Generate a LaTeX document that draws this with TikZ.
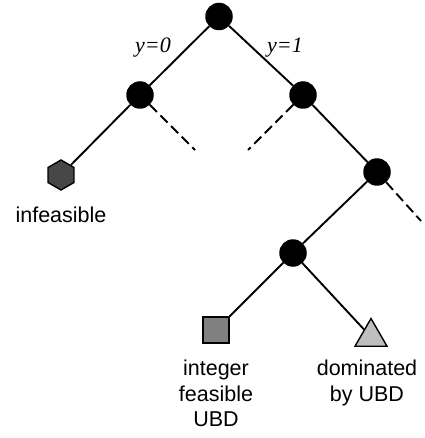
\documentclass[tikz,border=0pt]{standalone}
\usepackage{fontspec}
\setmainfont{Liberation Sans}
\newfontfamily\lserif{Liberation Serif}
\usetikzlibrary{shapes.geometric}
\begin{document}
\begin{tikzpicture}[x=1pt,y=-1pt,
  dot/.style={circle,fill=black,inner sep=0pt,minimum size=27.5pt},
  edge/.style={line width=1.9pt},
  dashedge/.style={line width=1.9pt,dash pattern=on 10pt off 5pt},
  lbl/.style={font=\fontsize{21.5}{25.5}\selectfont,align=center,inner sep=0pt},
  ylbl/.style={font=\lserif\itshape\fontsize{22}{26}\selectfont,inner sep=0pt},
  hexnode/.style={regular polygon,regular polygon sides=6,shape border rotate=30,draw=black,fill=black!72,line width=1.4pt,inner sep=0pt,minimum size=30pt},
  sqnode/.style={rectangle,draw=black,fill=black!50,line width=1.4pt,inner sep=0pt,minimum size=26pt},
  trinode/.style={regular polygon,regular polygon sides=3,draw=black,fill=black!25,line width=1.4pt,inner sep=0pt,minimum size=37pt}
]
\useasboundingbox (0,0) rectangle (424,438);
\node[dot] (root) at (219,16.5) {};
\node[dot] (L) at (140,95) {};
\node[dot] (R) at (303,95) {};
\node[dot] (RR) at (377,172) {};
\node[dot] (M) at (293,253) {};
\node[hexnode] (hex) at (61,175) {};
\node[sqnode] (sq) at (216,330) {};
\node[trinode] (tri) at (371,337) {};
\coordinate (dL) at (195,150);
\coordinate (dR) at (248,150);
\coordinate (dRR) at (421,221);

\draw[edge] (root) -- (L);
\draw[edge] (root) -- (R);
\draw[edge] (L) -- (hex);
\draw[edge] (R) -- (RR);
\draw[edge] (RR) -- (M);
\draw[edge] (M) -- (sq);
\draw[edge] (M) -- (tri);
\draw[dashedge] (L) -- (dL);
\draw[dashedge] (R) -- (dR);
\draw[dashedge] (RR) -- (dRR);

\node[ylbl] (y0) at (153,48) {y=0};
\node[ylbl] (y1) at (285,48) {y=1};
\node[lbl,anchor=base] (tinf) at (61,222) {infeasible};
\node[lbl,anchor=north] (tint) at (216,360) {integer\\feasible\\UBD};
\node[lbl,anchor=north] (tdom) at (367,360) {dominated\\by UBD};
\end{tikzpicture}
\end{document}
